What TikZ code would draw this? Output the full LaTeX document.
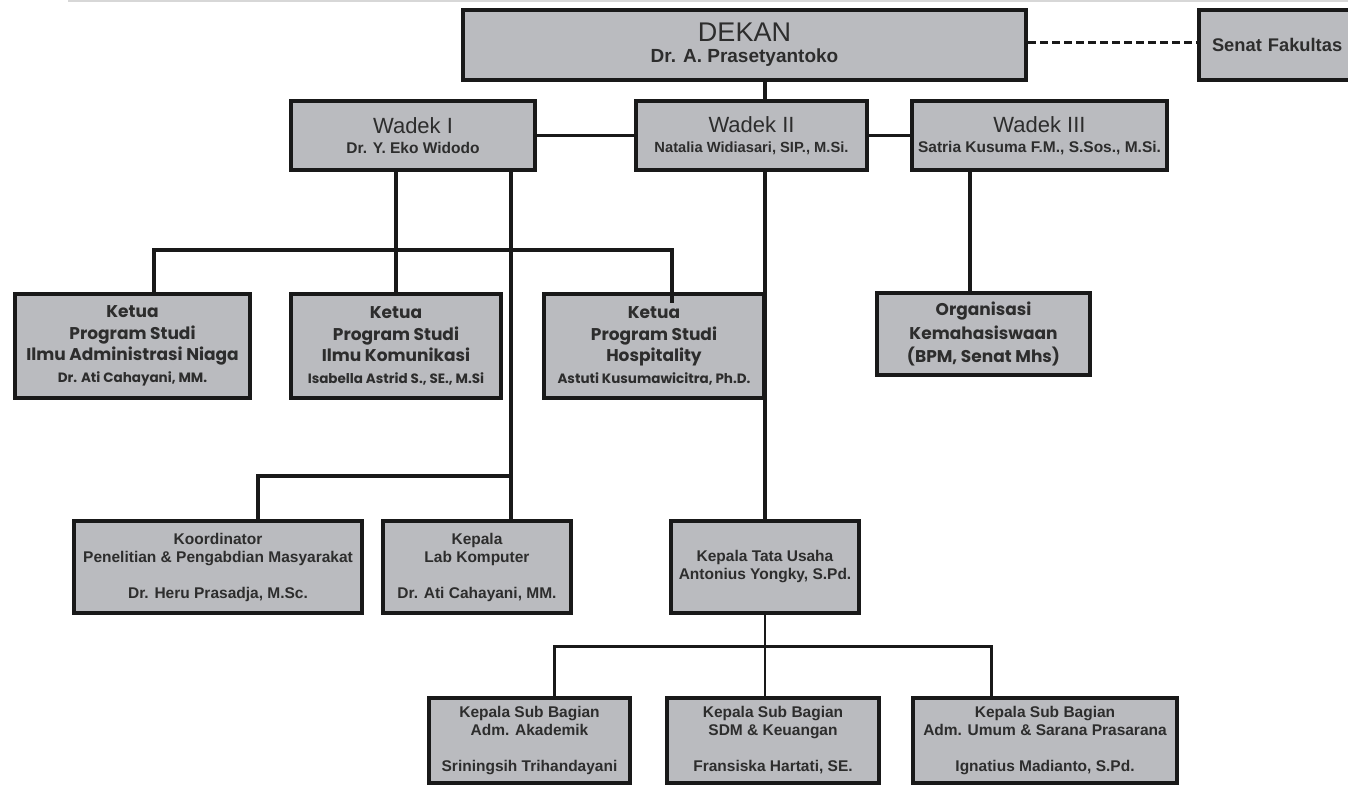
\documentclass[tikz,border=0pt]{standalone}
\usepackage{fontspec}
\setmainfont{Liberation Sans}
\newfontfamily\geo{Poppins}
\definecolor{boxfill}{RGB}{186,187,191}
\definecolor{txt}{RGB}{45,45,45}
\definecolor{edge}{RGB}{25,25,25}
\definecolor{rule}{RGB}{215,215,215}
\tikzset{
  box/.style={draw=edge, line width=4pt, fill=boxfill, text=txt, align=center, inner sep=0pt},
  wadekbox/.style={box, font=\fontsize{15.5}{20}\selectfont},
  ketuabox/.style={box, font=\geo\bfseries\fontsize{17}{21.5}\selectfont},
  condbox/.style={box, font=\bfseries\fontsize{15.5}{18}\selectfont},
  conn/.style={draw=edge, line width=3.5pt, line join=miter},
  thinconn/.style={draw=edge, line width=2pt},
  dashconn/.style={draw=edge, line width=3pt, dash pattern=on 8pt off 4pt},
  toprule/.style={draw=rule, line width=1.5pt}
}
\newcommand{\kname}[1]{{\fontsize{13.5}{14}\selectfont #1}}
\begin{document}
\begin{tikzpicture}[x=1pt, y=-1pt]
\useasboundingbox (0,0) rectangle (1348,784);
\draw[toprule] (68,0.8) -- (1348,0.8);
% boxes
\node[box, minimum width=563pt, minimum height=70pt, font=\fontsize{19}{21}\selectfont] (dekan) at (744.5,45)
  {{\fontsize{27}{27}\selectfont DEKAN}\\ {\bfseries Dr. A. Prasetyantoko}};
\node[box, minimum width=171pt, minimum height=70pt, text width=145pt, align=left, font=\bfseries\fontsize{18.3}{22}\selectfont] (senat) at (1284.5,45) {Senat Fakultas};
\node[wadekbox, minimum width=244pt, minimum height=69pt] (wadek1) at (413,135.5)
  {{\fontsize{22}{22}\selectfont Wadek I}\\ {\bfseries Dr. Y. Eko Widodo}};
\node[wadekbox, minimum width=231pt, minimum height=69pt] (wadek2) at (751.5,135.5)
  {{\fontsize{22}{22}\selectfont Wadek II}\\ {\bfseries\fontsize{14.7}{20}\selectfont Natalia Widiasari, SIP., M.Si.}};
\node[wadekbox, minimum width=255pt, minimum height=69pt] (wadek3) at (1039.5,135.5)
  {{\fontsize{22}{22}\selectfont Wadek III}\\ {\bfseries Satria Kusuma F.M., S.Sos., M.Si.}};
\node[ketuabox, minimum width=235pt, minimum height=104pt] (ketua1) at (132.5,346)
  {Ketua\\ Program Studi\\ Ilmu Administrasi Niaga\\ \kname{Dr. Ati Cahayani, MM.}};
\node[ketuabox, minimum width=210pt, minimum height=104pt] (ketua2) at (396,346)
  {Ketua\\ Program Studi\\ Ilmu Komunikasi\\ \kname{Isabella Astrid S., SE., M.Si}};
\node[ketuabox, minimum width=220pt, minimum height=104pt] (ketua3) at (654,346)
  {Ketua\\ Program Studi\\ Hospitality\\ \kname{Astuti Kusumawicitra, Ph.D.}};
\node[ketuabox, minimum width=213pt, minimum height=82pt, font=\geo\bfseries\fontsize{17}{23.5}\selectfont] (org) at (983.5,334)
  {Organisasi\\ Kemahasiswaan\\ (BPM, Senat Mhs)};
\node[condbox, minimum width=288pt, minimum height=92pt] (koord) at (218,567)
  {Koordinator\\ Penelitian \& Pengabdian Masyarakat\\ \\ Dr. Heru Prasadja, M.Sc.};
\node[condbox, minimum width=188pt, minimum height=92pt] (lab) at (477,567)
  {Kepala\\ Lab Komputer\\ \\ Dr. Ati Cahayani, MM.};
\node[condbox, minimum width=188pt, minimum height=92pt] (ktu) at (765,567)
  {Kepala Tata Usaha\\ Antonius Yongky, S.Pd.};
\node[condbox, minimum width=201pt, minimum height=85pt] (b1) at (529.5,740.5)
  {Kepala Sub Bagian\\ Adm. Akademik\\ \\ Sriningsih Trihandayani};
\node[condbox, minimum width=212pt, minimum height=85pt] (b2) at (773,740.5)
  {Kepala Sub Bagian\\ SDM \& Keuangan\\ \\ Fransiska Hartati, SE.};
\node[condbox, minimum width=264pt, minimum height=85pt] (b3) at (1045,740.5)
  {Kepala Sub Bagian\\ Adm. Umum \& Sarana Prasarana\\ \\ Ignatius Madianto, S.Pd.};
% connectors
\coordinate (barA) at (396,250);
\coordinate (barB) at (511,476);
\coordinate (barC) at (765,646);
\draw[conn] (ktu.north |- dekan.south) -- (ktu.north |- wadek2.north);
\draw[conn] (wadek1.east) -- (wadek2.west);
\draw[conn] (wadek2.east) -- (wadek3.west);
\draw[dashconn] ([yshift=2pt]dekan.east) -- ([yshift=2pt]senat.west);
\draw[conn] (wadek1.south -| ketua2.north) -- (ketua2.north);
\draw[conn] ([xshift=21.5pt]ketua1.north) -- ([xshift=21.5pt]ketua1.north |- barA)
  -- ([xshift=18pt]ketua3.north |- barA) -- ([xshift=18pt,yshift=-11pt]ketua3.north);
\draw[conn] ([xshift=34pt]lab.north |- wadek1.south) -- ([xshift=34pt]lab.north);
\draw[conn] ([xshift=40pt]koord.north) |- (barB);
\draw[conn] (ktu.north |- wadek2.south) -- (ktu.north);
\draw[conn] ([xshift=-13.5pt]org.north |- wadek3.south) -- ([xshift=-13.5pt]org.north);
\draw[thinconn] (ktu.south) -- (ktu.south |- b2.north);
\draw[conn, line width=3pt] ([xshift=24.5pt]b1.north) |- (barC) -| ([xshift=-54pt]b3.north);
\end{tikzpicture}
\end{document}
